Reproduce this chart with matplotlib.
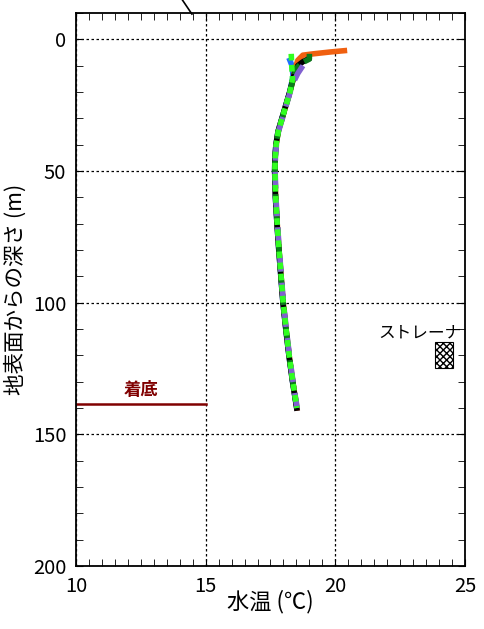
import matplotlib
matplotlib.use("Agg")
import matplotlib.pyplot as plt
from matplotlib.ticker import MultipleLocator
from matplotlib.patches import Rectangle

plt.rcParams['font.family'] = ['Noto Sans CJK JP', 'DejaVu Sans']

# 水温プロファイル (深さ m, 水温 ℃)
blue_d = [8, 10, 14, 20, 25, 30, 35, 40, 45, 50, 60, 70, 80, 90, 100, 110, 120, 130, 140]
blue_t = [18.25, 18.33, 18.37, 18.24, 18.09, 17.94, 17.79, 17.71, 17.67, 17.66, 17.69, 17.75, 17.82, 17.90, 17.98, 18.09, 18.21, 18.35, 18.51]

orange_d = [4.3, 4.8, 5.5, 6.0, 8.0, 11, 15, 20, 25, 30, 35, 40, 45, 50, 60, 70, 80, 90, 100, 110, 120, 130, 140]
orange_t = [20.35, 19.8, 19.15, 18.75, 18.55, 18.45, 18.38, 18.25, 18.10, 17.95, 17.80, 17.72, 17.68, 17.67, 17.70, 17.76, 17.83, 17.91, 17.99, 18.10, 18.22, 18.36, 18.52]

black_d = [7.5, 8.5, 10, 13, 20, 25, 30, 35, 40, 45, 50, 60, 70, 80, 90, 100, 110, 120, 130, 140]
black_t = [18.95, 18.75, 18.55, 18.42, 18.24, 18.09, 17.94, 17.79, 17.71, 17.67, 17.66, 17.69, 17.75, 17.82, 17.90, 17.98, 18.09, 18.21, 18.35, 18.51]

dgreen_d = [5.5, 7.5, 9, 11, 15, 20, 25, 30, 35, 40, 45, 50, 60, 70, 80, 90, 100, 110, 120, 130, 140]
dgreen_t = [19.0, 19.0, 18.7, 18.5, 18.38, 18.25, 18.10, 17.95, 17.80, 17.72, 17.68, 17.67, 17.70, 17.76, 17.83, 17.91, 17.99, 18.10, 18.22, 18.36, 18.52]

purple_d = [10, 13, 17, 20, 25, 30, 35, 40, 45, 50, 60, 70, 80, 90, 100, 110, 120, 130, 140]
purple_t = [18.75, 18.55, 18.35, 18.26, 18.11, 17.96, 17.81, 17.73, 17.69, 17.68, 17.71, 17.77, 17.84, 17.92, 18.00, 18.11, 18.23, 18.37, 18.53]

lime_d = [5.5, 10, 15, 20, 25, 30, 35, 40, 45, 50, 60, 70, 80, 90, 100, 110, 120, 130, 140]
lime_t = [18.3, 18.32, 18.35, 18.25, 18.10, 17.95, 17.80, 17.72, 17.68, 17.67, 17.70, 17.76, 17.83, 17.91, 17.99, 18.10, 18.22, 18.36, 18.52]

bottom_depth = 138.6
bottom_x = [10, 15]
strainer_x = [23.85, 24.55]
strainer_d = [115, 125]

fig = plt.figure(figsize=(4.84, 6.29), dpi=100)
ax = fig.add_axes([0.157, 0.1002, 0.8037, 0.8791])

ax.plot(blue_t, blue_d, color='#1f6fff', lw=4)
ax.plot(orange_t, orange_d, color='#f06010', lw=4)
ax.plot(black_t, black_d, color='black', lw=4)
ax.plot(dgreen_t, dgreen_d, color='#0a7a1a', lw=4, ls=(0, (2, 1)))
ax.plot(purple_t, purple_d, color='#8060d0', lw=4, ls=(0, (3, 2)))
ax.plot(lime_t, lime_d, color='#30ff20', lw=4, ls=(0, (1.2, 0.8)))

# 着底
ax.plot(bottom_x, [bottom_depth, bottom_depth], color='#800000', lw=1.8)
ax.text(12.5, 133, '着底', color='#800000', ha='center', va='center', fontsize=12.5,
        fontweight='bold')

# ストレーナ
ax.add_patch(Rectangle((strainer_x[0], strainer_d[0]), strainer_x[1] - strainer_x[0],
                       strainer_d[1] - strainer_d[0], facecolor='white',
                       edgecolor='black', hatch='xxxxx', lw=0.8))
ax.text(23.27, 111.7, 'ストレーナ', ha='center', va='center', fontsize=12)

# 上に出る引き出し線
ax.plot([14.1, 14.47], [-15, -9.6], color='black', lw=1.2, clip_on=False)

ax.set_xlim(10, 25)
ax.set_ylim(200, -10)
ax.set_xticks([10, 15, 20, 25])
ax.set_yticks([0, 50, 100, 150, 200])
ax.xaxis.set_minor_locator(MultipleLocator(0.5))
ax.yaxis.set_minor_locator(MultipleLocator(10))
ax.tick_params(which='both', direction='in', top=True, right=True, labelsize=14.5, color='black')
ax.tick_params(which='major', length=5, pad=7)
ax.tick_params(which='minor', length=5)
ax.grid(True, which='major', color='black', ls=(0, (2, 2)), lw=0.9)
for s in ax.spines.values():
    s.set_linewidth(1.3)

ax.set_xlabel('水温 (℃)', fontsize=16, labelpad=-5)
ax.set_ylabel('地表面からの深さ (m)', fontsize=15.5, labelpad=4)

fig.savefig('out.png', dpi=100)
